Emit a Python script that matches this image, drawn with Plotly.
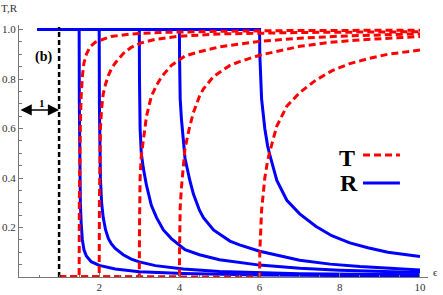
import plotly.graph_objects as go

# ---- data (epsilon, value) ----
# curve A: threshold 1.5
eps_T_A = [1.0, 1.5, 1.505, 1.515, 1.53, 1.55, 1.58, 1.62, 1.68, 1.77, 1.9, 2.0, 2.3, 2.8, 3.5, 5.0, 7.0, 10.0]
T_A     = [0.0, 0.0, 0.30, 0.50, 0.62, 0.73, 0.81, 0.865, 0.90, 0.93, 0.948, 0.955, 0.972, 0.982, 0.988, 0.993, 0.996, 0.997]
eps_R_A = [0.45, 1.5, 1.505, 1.515, 1.53, 1.55, 1.58, 1.62, 1.68, 1.8, 2.0, 2.4, 3.0, 4.1, 6.0, 10.0]
R_A     = [1.0, 1.0, 0.70, 0.45, 0.30, 0.22, 0.15, 0.11, 0.085, 0.062, 0.047, 0.032, 0.021, 0.014, 0.008, 0.004]

# curve B: threshold 2
eps_T_B = [1.0, 2.0, 2.005, 2.015, 2.03, 2.06, 2.1, 2.16, 2.23, 2.3, 2.4, 2.6, 2.8, 3.05, 3.4, 4.0, 5.0, 7.0, 10.0]
T_B     = [0.0, 0.0, 0.30, 0.50, 0.60, 0.68, 0.74, 0.78, 0.815, 0.84, 0.865, 0.903, 0.928, 0.946, 0.96, 0.973, 0.982, 0.988, 0.991]
eps_R_B = [0.45, 2.0, 2.005, 2.015, 2.03, 2.06, 2.1, 2.16, 2.23, 2.3, 2.4, 2.6, 2.8, 3.0, 3.4, 4.1, 5.0, 7.0, 10.0]
R_B     = [1.0, 1.0, 0.70, 0.50, 0.40, 0.30, 0.24, 0.19, 0.155, 0.135, 0.115, 0.09, 0.072, 0.061, 0.046, 0.032, 0.022, 0.013, 0.009]

# curve C: threshold 3
eps_T_C = [1.0, 3.0, 3.005, 3.02, 3.05, 3.1, 3.18, 3.3, 3.43, 3.56, 3.8, 4.14, 4.5, 5.0, 6.0, 7.0, 8.0, 10.0]
T_C     = [0.0, 0.0, 0.20, 0.40, 0.49, 0.56, 0.65, 0.73, 0.775, 0.81, 0.855, 0.893, 0.91, 0.93, 0.952, 0.965, 0.973, 0.983]
eps_R_C = [0.45, 3.0, 3.005, 3.02, 3.05, 3.1, 3.18, 3.3, 3.43, 3.6, 3.8, 4.14, 4.5, 5.0, 6.0, 7.0, 8.0, 10.0]
R_C     = [1.0, 1.0, 0.80, 0.60, 0.50, 0.44, 0.37, 0.29, 0.24, 0.19, 0.155, 0.11, 0.09, 0.07, 0.048, 0.035, 0.027, 0.018]

# curve D: threshold 4
eps_T_D = [1.0, 4.0, 4.005, 4.02, 4.05, 4.1, 4.14, 4.26, 4.35, 4.5, 4.6, 4.85, 5.26, 5.5, 6.0, 7.0, 7.76, 8.5, 10.0]
T_D     = [0.0, 0.0, 0.12, 0.28, 0.36, 0.47, 0.52, 0.61, 0.665, 0.73, 0.76, 0.81, 0.855, 0.87, 0.896, 0.932, 0.948, 0.958, 0.972]
eps_R_D = [0.45, 4.0, 4.005, 4.02, 4.05, 4.1, 4.14, 4.26, 4.35, 4.5, 4.6, 4.85, 5.26, 5.5, 6.0, 7.0, 7.76, 8.5, 10.0]
R_D     = [1.0, 1.0, 0.88, 0.72, 0.64, 0.53, 0.48, 0.39, 0.335, 0.27, 0.24, 0.19, 0.145, 0.13, 0.104, 0.068, 0.052, 0.042, 0.028]

# curve E: threshold 6
eps_T_E = [1.0, 6.0, 6.005, 6.02, 6.05, 6.13, 6.2, 6.26, 6.43, 6.68, 7.0, 7.4, 7.8, 8.25, 8.7, 9.2, 10.0]
T_E     = [0.0, 0.0, 0.10, 0.18, 0.27, 0.40, 0.47, 0.51, 0.61, 0.69, 0.745, 0.795, 0.833, 0.862, 0.882, 0.90, 0.917]
eps_R_E = [0.45, 6.0, 6.005, 6.02, 6.05, 6.13, 6.2, 6.26, 6.43, 6.68, 7.0, 7.4, 7.8, 8.25, 8.7, 9.2, 10.0]
R_E     = [1.0, 1.0, 0.90, 0.82, 0.72, 0.60, 0.53, 0.49, 0.39, 0.31, 0.255, 0.205, 0.167, 0.138, 0.118, 0.10, 0.083]

barrier_eps = [1.0, 1.0]
barrier_val = [0.0, 1.01]

x_ticks = [2, 4, 6, 8, 10]
y_ticks = [0.2, 0.4, 0.6, 0.8, 1.0]

BLUE = "#0000FF"
RED = "#FF0000"
SERIF = "Liberation Serif"

fig = go.Figure()

R_sets = [(eps_R_A, R_A), (eps_R_B, R_B), (eps_R_C, R_C), (eps_R_D, R_D), (eps_R_E, R_E)]
T_sets = [(eps_T_A, T_A), (eps_T_B, T_B), (eps_T_C, T_C), (eps_T_D, T_D), (eps_T_E, T_E)]

for ex, r in R_sets:
    fig.add_trace(go.Scatter(x=ex, y=r, mode="lines",
                             line=dict(color=BLUE, width=3), showlegend=False, hoverinfo="skip"))
for ex, t in T_sets:
    fig.add_trace(go.Scatter(x=ex, y=t, mode="lines",
                             line=dict(color=RED, width=3, dash="7px,4px"), showlegend=False, hoverinfo="skip"))
fig.add_trace(go.Scatter(x=barrier_eps, y=barrier_val, mode="lines",
                         line=dict(color="black", width=2.5, dash="5px,3px"), showlegend=False, hoverinfo="skip"))

AX = "#777777"
fig.update_xaxes(range=[0, 10.2], automargin=False, showline=True, linecolor=AX, linewidth=1,
                 showgrid=False, zeroline=False,
                 tickvals=x_ticks, ticktext=[str(v) for v in x_ticks], ticks="inside", ticklen=4,
                 tickcolor=AX, tickwidth=1,
                 minor=dict(dtick=0.5, tick0=0, ticks="inside", ticklen=2.5, tickcolor=AX, tickwidth=1),
                 tickfont=dict(family=SERIF, size=11, color="#333333"))
fig.update_yaxes(range=[0, 1.0182], automargin=False, showline=True, linecolor=AX, linewidth=1,
                 showgrid=False, zeroline=False,
                 tickvals=y_ticks, ticktext=["%.1f" % v for v in y_ticks], ticks="inside", ticklen=4,
                 tickcolor=AX, tickwidth=1,
                 minor=dict(dtick=0.05, tick0=0, ticks="inside", ticklen=2.5, tickcolor=AX, tickwidth=1),
                 tickfont=dict(family=SERIF, size=11, color="#333333"))

ann = []
ann.append(dict(x=-0.024, y=1.0655, xref="paper", yref="paper", text="T,R", showarrow=False,
                font=dict(family=SERIF, size=11, color="#333333"), xanchor="center", yanchor="middle"))
ann.append(dict(x=1.019, y=0.02, xref="paper", yref="paper", text="ϵ", showarrow=False,
                font=dict(family=SERIF, size=11, color="#333333"), xanchor="center", yanchor="middle"))
ann.append(dict(x=0.62, y=0.89, xref="x", yref="y", text="<b>(b)</b>", showarrow=False,
                font=dict(family=SERIF, size=14, color="black"), xanchor="center", yanchor="middle"))
ann.append(dict(x=0.57, y=0.705, xref="x", yref="y", text="<b>1</b>", showarrow=False,
                font=dict(family=SERIF, size=11, color="black"), xanchor="center", yanchor="middle"))
ann.append(dict(x=1.0, y=0.675, ax=0.0, ay=0.675, xref="x", yref="y", axref="x", ayref="y",
                text="", showarrow=True, arrowhead=2, startarrowhead=2, arrowside="end+start",
                arrowsize=1.5, startarrowsize=1.5, arrowwidth=1.5, arrowcolor="black"))
ann.append(dict(x=8.17, y=0.479, xref="x", yref="y", text="<b>T</b>", showarrow=False,
                font=dict(family=SERIF, size=24, color="black"), xanchor="center", yanchor="middle"))
ann.append(dict(x=8.24, y=0.378, xref="x", yref="y", text="<b>R</b>", showarrow=False,
                font=dict(family=SERIF, size=24, color="black"), xanchor="center", yanchor="middle"))

shapes = [
    dict(type="line", xref="x", yref="y", x0=8.58, x1=9.5, y0=0.493, y1=0.493,
         line=dict(color=RED, width=3, dash="7px,4px")),
    dict(type="line", xref="x", yref="y", x0=8.58, x1=9.5, y0=0.38, y1=0.38,
         line=dict(color=BLUE, width=3)),
]

fig.update_layout(width=443, height=295, margin=dict(l=19, r=15, t=25, b=18, autoexpand=False),
                  paper_bgcolor="white", plot_bgcolor="white",
                  annotations=ann, shapes=shapes, showlegend=False)

fig.write_html("out.html", config={"displayModeBar": False},
               post_script="document.body.style.margin='0px';document.body.style.padding='0px';document.body.style.overflow='hidden';")
